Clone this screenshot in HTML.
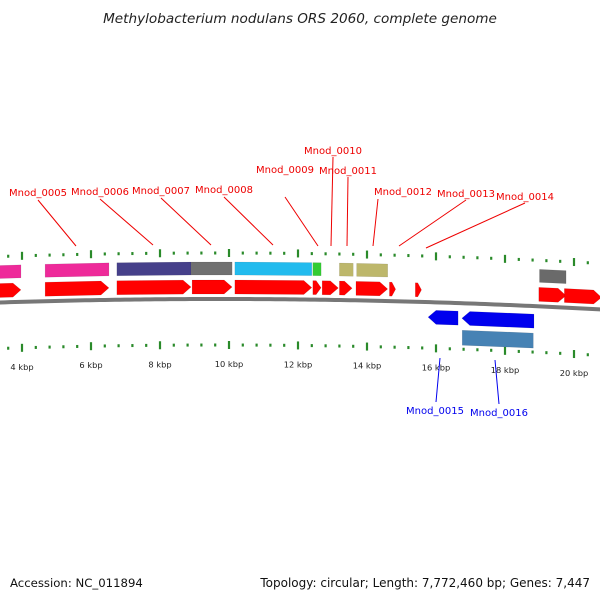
<!DOCTYPE html>
<html><head><meta charset="utf-8"><style>
body{margin:0;background:#fff;}
svg{display:block;font-family:"DejaVu Sans","Liberation Sans",sans-serif;}
</style></head><body>
<svg id="c" width="600" height="600" viewBox="0 0 600 600">
<text x="300" y="23" text-anchor="middle" font-size="13.6" font-style="italic" fill="#222">Methylobacterium nodulans ORS 2060, complete genome</text>
<text x="10" y="587" font-size="11.7" fill="#111">Accession: NC_011894</text>
<text x="590" y="587" text-anchor="end" font-size="12" fill="#111">Topology: circular; Length: 7,772,460 bp; Genes: 7,447</text>
<g id="g"></g>
</svg>
<script>
// gene data in kbp
const geneStart=[3.2,4.67,6.75,8.9,10.17,12.43,13.2,13.7,19.0];
const geneEnd=[3.97,6.52,8.9,10.09,12.4,12.67,13.6,14.6,19.77];
const geneColor=['#ee2a9a','#ee2a9a','#46408a','#707070','#22bbee','#33cc33','#bdb76b','#bdb76b','#6a6a6a'];
const cdsStart=[3.2,4.67,6.75,8.93,10.17,12.43,12.7,13.2,13.68,14.65,15.4,18.98,19.72];
const cdsEnd=[3.97,6.52,8.9,10.09,12.4,12.67,13.17,13.57,14.6,14.83,15.58,19.77,20.8];
const revStart=[15.77,16.75];
const revEnd=[16.64,18.84];
const rnaStart=[16.76];
const rnaEnd=[18.82];
const tickLabels=['4 kbp','6 kbp','8 kbp','10 kbp','12 kbp','14 kbp','16 kbp','18 kbp','20 kbp'];
const tickKbp=[4,6,8,10,12,14,16,18,20];

const NS='http://www.w3.org/2000/svg';
const g=document.getElementById('g');
const X=k=>22+(k-4)*34.5;
const B=x=>299+7.2e-5*(x-220)*(x-220);
function el(t,a){const e=document.createElementNS(NS,t);for(const k in a)e.setAttribute(k,a[k]);g.appendChild(e);return e;}
function band(x1,x2,o1,o2,fill,arrow,rev){
  x1=Math.max(x1,-5);x2=Math.min(x2,605);
  let p;
  const a=Math.min(8,(x2-x1)*0.6);
  if(arrow&&!rev){p=[[x1,B(x1)+o1],[x2-a,B(x2-a)+o1],[x2,B(x2)+(o1+o2)/2],[x2-a,B(x2-a)+o2],[x1,B(x1)+o2]];}
  else if(arrow&&rev){p=[[x1+a,B(x1+a)+o1],[x2,B(x2)+o1],[x2,B(x2)+o2],[x1+a,B(x1+a)+o2],[x1,B(x1)+(o1+o2)/2]];}
  else p=[[x1,B(x1)+o1],[x2,B(x2)+o1],[x2,B(x2)+o2],[x1,B(x1)+o2]];
  return el('polygon',{points:p.map(q=>q.join(',')).join(' '),fill:fill,stroke:'rgba(0,0,0,0.15)','stroke-width':0.5});
}
// backbone
let d='';for(let x=-5;x<=605;x+=5)d+=(x<0?'M':'L')+x+','+B(x).toFixed(2);
let bb=el('path',{d:d,stroke:'#777',"stroke-width":4,fill:'none'});


// ticks
for(let k=3.2;k<=21;k+=0.4){
  const kk=Math.round(k*10)/10;const x=X(kk);const major=Math.abs(kk/2-Math.round(kk/2))<0.01;
  const len=major?8:3;
  let t1=el('line',{x1:x,x2:x,y1:B(x)-46-len/2,y2:B(x)-46+len/2,stroke:'#2a8a2a','stroke-width':2.2});
  
  
  let t2=el('line',{x1:x,x2:x,y1:B(x)+46-len/2,y2:B(x)+46+len/2,stroke:'#2a8a2a','stroke-width':2.2});
  
  
}
tickKbp.forEach((k,i)=>{const x=X(k);const t=el('text',{x:x,y:B(x)+68,'text-anchor':'middle','font-size':8.3,fill:'#222'});t.textContent=tickLabels[i];
  
  });
geneStart.forEach((s,i)=>{const off=-37;const p=band(X(s),X(geneEnd[i]),off,off+13,geneColor[i],false);
  
  });
cdsStart.forEach((s,i)=>{const p=band(X(s),X(cdsEnd[i]),-19,-5,'#ff0000',true,false);
  
  });
revStart.forEach((s,i)=>{const p=band(X(s),X(revEnd[i]),8,22,'#0000ee',true,true);
  
  });
rnaStart.forEach((s,i)=>{const p=band(X(s),X(rnaEnd[i]),27,42,'#4682b4',false);
  
  });
// labels
const lab=[['Mnod_0005',38,196,38,200,76,246],['Mnod_0006',100,195,100,199,153,245],['Mnod_0007',161,194,161,198,211,245],['Mnod_0008',224,193,224,197,273,245],
['Mnod_0009',285,173,285,197,318,246],['Mnod_0010',333,154,333,157,331,246],['Mnod_0011',348,174,348,177,347,246],['Mnod_0012',403,195,378,199,373,246],
['Mnod_0013',466,197,466,200,399,246],['Mnod_0014',525,200,525,203,426,248]];
lab.forEach(l=>{const ln=el('line',{x1:l[3],y1:l[4],x2:l[5],y2:l[6],stroke:'#e00','stroke-width':1});
  
  
  const t=el('text',{x:l[1],y:l[2],'text-anchor':'middle','font-size':10,fill:'#e00'});t.textContent=l[0];
  
  });
const blab=[['Mnod_0015',435,414,440,358,436,402],['Mnod_0016',499,416,495,360,499,404]];
blab.forEach(l=>{const ln=el('line',{x1:l[3],y1:l[4],x2:l[5],y2:l[6],stroke:'#00e','stroke-width':1});
  
  
  const t=el('text',{x:l[1],y:l[2],'text-anchor':'middle','font-size':10,fill:'#00e'});t.textContent=l[0];
  
  });
</script>
</body></html>
